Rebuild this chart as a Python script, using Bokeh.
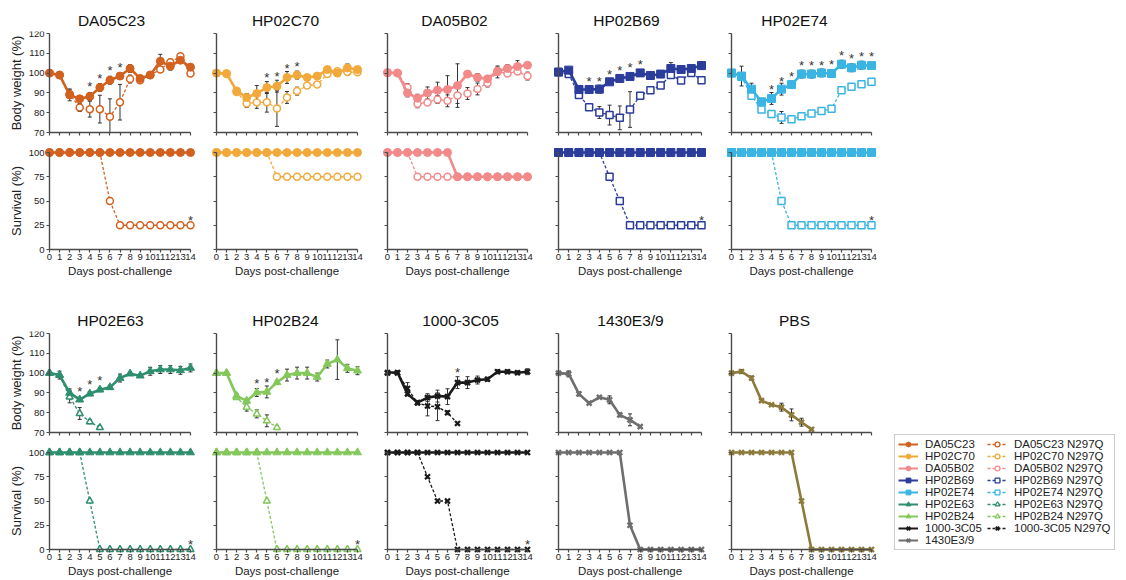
from bokeh.plotting import figure
from bokeh.layouts import row, column
from bokeh.models import (Range1d, FixedTicker, Whisker, TeeHead, ColumnDataSource,
                          Legend, LegendItem)
from bokeh.core.properties import value
from bokeh.embed import file_html
from bokeh.resources import INLINE

FONT = "Liberation Sans"

# ---------------- data ----------------
DAYS = list(range(15))
BW_TICKS = [70, 80, 90, 100, 110, 120]
SURV_TICKS = [0, 25, 50, 75, 100]

NAMES = ["DA05C23", "HP02C70", "DA05B02", "HP02B69", "HP02E74",
         "HP02E63", "HP02B24", "1000-3C05", "1430E3/9", "PBS"]
COLORS = ["#D2601F", "#F2A93B", "#F28A8A", "#2B3C9B", "#3AB5E3",
          "#2E8F6F", "#84C85B", "#1A1A1A", "#6E6E6E", "#8C7A3A"]
MARKERS = ["circle", "circle", "circle", "square", "square",
           "triangle", "triangle", "x", "x", "x"]

# body weight (%) - wild type Fc
DA05C23_bw = [100, 99, 89, 87, 88.2, 92.7, 96.4, 98.5, 102.3, 97.3, 99, 106, 103.5, 106.5, 103]
DA05C23_bw_err = [0, 1, 3, 1, 2, 2, 2, 1, 2, 1, 1, 3.5, 2, 1, 1.5]
HP02C70_bw = [100, 99.8, 91, 87.7, 89.7, 92.7, 93.4, 97.8, 99, 97.8, 98.5, 101.8, 100, 102.6, 101.8]
HP02C70_bw_err = [0, 1, 1, 2, 4, 3, 3, 3, 2, 1, 1, 1.5, 1.5, 2, 1]
DA05B02_bw = [100.3, 100, 90, 87.3, 90, 91.4, 91.7, 93.7, 99.5, 97.8, 97.1, 101, 102.3, 103.3, 104]
DA05B02_bw_err = [0, 0.5, 2, 2, 3, 4, 7, 11, 1, 2, 1, 2, 2, 3, 1]
HP02B69_bw = [100.5, 101.5, 91.7, 91.7, 91.9, 95.6, 97.3, 98.3, 100.1, 98.8, 99.5, 102.3, 101.8, 102.3, 103.8]
HP02B69_bw_err = [0, 1, 1, 1, 2, 1, 1, 1, 1, 2, 1, 3, 1, 1, 2]
HP02E74_bw = [100, 98.5, 91.9, 85.5, 87.2, 91.9, 94.2, 99.5, 99.5, 100.1, 99.8, 104.5, 102.7, 104, 103.8]
HP02E74_bw_err = [0, 5, 3, 1, 3, 3, 1, 2, 2, 2, 2, 2, 2, 2, 1]
HP02E63_bw = [100, 99, 90, 86.6, 89.6, 91.6, 92.8, 97.5, 99.7, 98.7, 100.9, 101.8, 101.8, 101.4, 102.6]
HP02E63_bw_err = [0, 2, 2, 1, 1, 1, 1, 2, 0.5, 0.5, 2, 2, 2, 2, 2]
HP02B24_bw = [100, 100, 88.5, 86, 90.2, 90.5, 95.3, 99, 100, 100, 98, 104.6, 106.8, 102.4, 101.2]
HP02B24_bw_err = [0, 0, 1, 1, 2, 3, 1, 3, 3, 3, 2, 2, 10, 2, 2]
C1000_3C05_bw = [100.3, 100.3, 89.5, 85.1, 87.6, 88.4, 88.1, 95.2, 95.2, 96.5, 96.9, 100.7, 100.7, 100.2, 100.7]
C1000_3C05_bw_err = [0, 1, 1, 1, 2, 3, 4, 3, 3, 2, 1, 1, 1, 1, 1.5]
E1430_bw = [100, 99.6, 89.5, 84.8, 87.8, 86.5, 78.9, 76.4, 73]
E1430_bw_err = [0.5, 1.5, 1, 0.5, 0.5, 2, 1, 3, 0.5]
PBS_bw = [100, 100.8, 97.5, 86.1, 84, 82.8, 78.9, 75.2, 71.6]
PBS_bw_err = [0.5, 1, 1, 0.5, 0.5, 2, 3, 2, 0.5]

# body weight (%) - N297Q variants
DA05C23_N297Q_bw = [100, 99, 89.5, 82.6, 81.8, 81.8, 78, 85.3, 97, 96.4, 99, 101.8, 105.5, 108.5, 99.8]
DA05C23_N297Q_bw_err = [0, 0, 2, 2, 4, 7, 9, 9, 2, 1, 0, 1, 1.5, 0, 1]
HP02C70_N297Q_bw = [100, 99.5, 90.5, 84.6, 85.2, 85.3, 82.1, 87.7, 90.9, 93.7, 94.2, 99.5, 100.9, 100.6, 100.4]
HP02C70_N297Q_bw_err = [0, 0, 1, 2, 3, 5, 9, 3, 2, 1, 1, 1, 1, 1, 1]
DA05B02_N297Q_bw = [100, 100, 92.7, 84.5, 85.2, 86.7, 86, 88.7, 89.7, 92, 95, 100.6, 99.8, 100.8, 98.5]
DA05B02_N297Q_bw_err = [0, 0, 2, 2, 1, 2, 3, 4, 3, 3, 2, 3, 1, 1, 2]
HP02B69_N297Q_bw = [100.5, 99.5, 89, 82.8, 80.1, 78.8, 77.4, 81.6, 88.5, 91.4, 93.7, 99, 96.3, 100.1, 96.4]
HP02B69_N297Q_bw_err = [0, 0, 1, 1, 3, 5, 6, 9, 1, 0, 0, 0, 0, 0, 0]
HP02E74_N297Q_bw = [100, 98.1, 88.5, 81.6, 79.3, 77.6, 76.7, 78.2, 79.6, 80.9, 82, 91.4, 93.1, 94.4, 95.6]
HP02E74_N297Q_bw_err = [0, 0, 1, 0, 1, 3, 1, 0, 0, 0, 0, 0, 0, 0, 0]
HP02E63_N297Q_bw = [100, 99, 88, 79.6, 75.4, 72.5]
HP02E63_N297Q_bw_err = [0, 0, 3, 3, 1, 0]
HP02B24_N297Q_bw = [100, 100, 87.7, 82.8, 79.4, 75.9, 72.5]
HP02B24_N297Q_bw_err = [0, 0, 1, 2, 2, 3, 1]
C1000_3C05_N297Q_bw = [100, 100, 92.2, 85, 83.4, 83, 80, 74.6]
C1000_3C05_N297Q_bw_err = [0, 0, 3, 1, 5, 7, 1, 0]

# survival (%)
DA05C23_surv = [100] * 15
HP02C70_surv = [100] * 15
DA05B02_surv = [100, 100, 100, 100, 100, 100, 100, 75, 75, 75, 75, 75, 75, 75, 75]
HP02B69_surv = [100] * 15
HP02E74_surv = [100] * 15
HP02E63_surv = [100] * 15
HP02B24_surv = [100] * 15
C1000_3C05_surv = [100] * 15
E1430_surv = [100, 100, 100, 100, 100, 100, 100, 25, 0, 0, 0, 0, 0, 0, 0]
PBS_surv = [100, 100, 100, 100, 100, 100, 100, 50, 0, 0, 0, 0, 0, 0, 0]

DA05C23_N297Q_surv = [100, 100, 100, 100, 100, 100, 50, 25, 25, 25, 25, 25, 25, 25, 25]
HP02C70_N297Q_surv = [100, 100, 100, 100, 100, 100, 75, 75, 75, 75, 75, 75, 75, 75, 75]
DA05B02_N297Q_surv = [100, 100, 100, 75, 75, 75, 75, 75, 75, 75, 75, 75, 75, 75, 75]
HP02B69_N297Q_surv = [100, 100, 100, 100, 100, 75, 50, 25, 25, 25, 25, 25, 25, 25, 25]
HP02E74_N297Q_surv = [100, 100, 100, 100, 100, 50, 25, 25, 25, 25, 25, 25, 25, 25, 25]
HP02E63_N297Q_surv = [100, 100, 100, 100, 50, 0, 0, 0, 0, 0, 0, 0, 0, 0, 0]
HP02B24_N297Q_surv = [100, 100, 100, 100, 100, 50, 0, 0, 0, 0, 0, 0, 0, 0, 0]
C1000_3C05_N297Q_surv = [100, 100, 100, 100, 75, 50, 50, 0, 0, 0, 0, 0, 0, 0, 0]

# significance asterisks (day, level)
DA05C23_star_days = [4, 5, 6, 7]
DA05C23_star_y = [95, 98.8, 102.6, 104.5]
HP02C70_star_days = [5, 6, 7, 8]
HP02C70_star_y = [99.5, 99.8, 103.6, 104.8]
HP02B69_star_days = [3, 4, 5, 6, 7, 8]
HP02B69_star_y = [97.3, 97.3, 101, 103, 104.5, 106]
HP02E74_star_days = [4, 5, 6, 7, 8, 9, 10, 11, 12, 13, 14]
HP02E74_star_y = [93, 97.3, 100, 105.4, 105.4, 105.4, 106, 110.4, 108.7, 110, 110]
HP02E63_star_days = [3, 4, 5]
HP02E63_star_y = [92.3, 95.8, 97.7]
HP02B24_star_days = [4, 5, 6]
HP02B24_star_y = [96.3, 96.8, 101.4]
C1000_3C05_star_days = [7]
C1000_3C05_star_y = [102]
SURV_STAR_DAY = 14
SURV_STAR_Y_TOP = 33
SURV_STAR_Y_BOTTOM = 8

# ---------------- assemble ----------------
BW = [DA05C23_bw, HP02C70_bw, DA05B02_bw, HP02B69_bw, HP02E74_bw,
      HP02E63_bw, HP02B24_bw, C1000_3C05_bw, E1430_bw, PBS_bw]
BW_ERR = [DA05C23_bw_err, HP02C70_bw_err, DA05B02_bw_err, HP02B69_bw_err, HP02E74_bw_err,
          HP02E63_bw_err, HP02B24_bw_err, C1000_3C05_bw_err, E1430_bw_err, PBS_bw_err]
MBW = [DA05C23_N297Q_bw, HP02C70_N297Q_bw, DA05B02_N297Q_bw, HP02B69_N297Q_bw, HP02E74_N297Q_bw,
       HP02E63_N297Q_bw, HP02B24_N297Q_bw, C1000_3C05_N297Q_bw, None, None]
MBW_ERR = [DA05C23_N297Q_bw_err, HP02C70_N297Q_bw_err, DA05B02_N297Q_bw_err, HP02B69_N297Q_bw_err,
           HP02E74_N297Q_bw_err, HP02E63_N297Q_bw_err, HP02B24_N297Q_bw_err,
           C1000_3C05_N297Q_bw_err, None, None]
SURV = [DA05C23_surv, HP02C70_surv, DA05B02_surv, HP02B69_surv, HP02E74_surv,
        HP02E63_surv, HP02B24_surv, C1000_3C05_surv, E1430_surv, PBS_surv]
MSURV = [DA05C23_N297Q_surv, HP02C70_N297Q_surv, DA05B02_N297Q_surv, HP02B69_N297Q_surv,
         HP02E74_N297Q_surv, HP02E63_N297Q_surv, HP02B24_N297Q_surv, C1000_3C05_N297Q_surv,
         None, None]
STARS = [(DA05C23_star_days, DA05C23_star_y), (HP02C70_star_days, HP02C70_star_y), None,
         (HP02B69_star_days, HP02B69_star_y), (HP02E74_star_days, HP02E74_star_y),
         (HP02E63_star_days, HP02E63_star_y), (HP02B24_star_days, HP02B24_star_y),
         (C1000_3C05_star_days, C1000_3C05_star_y), None, None]
SURV_STAR = [True, False, False, True, True, True, True, True, False, False]

# ---------------- layout (pixels) ----------------
BOUNDS = [0, 200, 372, 543, 716, 885]          # figure column edges
X0_PX = [49, 216, 387, 558, 731]               # pixel of day 0
X14_PX = [190, 357, 527, 701, 871]             # pixel of day 14
TITLE_CX = [111, 285, 454, 626, 794, 110, 285, 460, 630, 794]
TITLE_SIZE = 15.5
BW_TOP_BORDER = 31
BW_H = 140           # body weight figure height
BW_PX_120, BW_PX_70 = 33, 132
SV_H = [160, 139]    # survival figure height (top row, bottom row)
SV_PX_100, SV_PX_0 = 12, 109   # inside survival figure
LEGEND_W = 239
AX_COLOR = "#4a4a4a"
TXT = "#222222"

# approximate Arial / Liberation Sans advance widths (per 1000 em) for title centring
_ADV = {"D": 722, "A": 667, "C": 722, "H": 722, "P": 667, "B": 667, "E": 667, "S": 667,
        "-": 333, "/": 278}


def text_w(s, size):
    return sum(_ADV.get(ch, 556) for ch in s) * size / 1000.0


def y_range_for(top_px, bot_px, v_hi, px_hi, v_lo, px_lo):
    s = (px_lo - px_hi) / (v_hi - v_lo)
    return Range1d(v_lo - (bot_px - px_lo) / s, v_hi + (px_hi - top_px) / s)


def style_axis(ax, ticks, bounds, loc, show_labels):
    ax.ticker = FixedTicker(ticks=ticks)
    ax.bounds = bounds
    ax.fixed_location = loc
    ax.axis_line_color = AX_COLOR
    ax.axis_line_width = 1.4
    ax.major_tick_line_color = AX_COLOR
    ax.major_tick_line_width = 1.2
    ax.major_tick_in = 0
    ax.major_tick_out = 3
    ax.minor_tick_line_color = None
    ax.major_label_text_font = FONT
    ax.major_label_text_font_size = "9.5px"
    ax.major_label_standoff = 2
    ax.major_label_text_color = TXT if show_labels else None
    ax.axis_label_text_font = FONT
    ax.axis_label_text_font_style = "normal"
    ax.axis_label_text_color = TXT


def base_fig(width, height, xr, yr, top):
    p = figure(width=width, height=height, x_range=xr, y_range=yr,
               tools="", toolbar_location=None, output_backend="svg",
               min_border_left=0, min_border_right=0,
               min_border_top=top, min_border_bottom=0,
               outline_line_color=None, background_fill_color="white",
               border_fill_color="white")
    p.xgrid.visible = False
    p.ygrid.visible = False
    return p


def add_errors(p, xs, ys, es, lo_clip):
    xx, lo, hi = [], [], []
    for x, y, e in zip(xs, ys, es):
        if e > 0:
            xx.append(x)
            lo.append(max(y - e, lo_clip))
            hi.append(y + e)
    if not xx:
        return
    src = ColumnDataSource(dict(x=xx, lo=lo, hi=hi))
    w = Whisker(source=src, base="x", lower="lo", upper="hi",
                line_color="#333333", line_width=1,
                upper_head=TeeHead(size=4, line_color="#333333", line_width=1),
                lower_head=TeeHead(size=4, line_color="#333333", line_width=1))
    p.add_layout(w)


def draw_series(p, ys, color, marker, dashed):
    xs = DAYS[:len(ys)]
    isx = marker == "x"
    if dashed:
        p.line(xs, ys, line_color=color, line_width=1.3, line_dash="3 2")
        p.scatter(xs, ys, marker=marker, size=7,
                  fill_color=color if isx else "white", line_color=color,
                  line_width=2.2 if isx else 1.5)
    else:
        p.line(xs, ys, line_color=color, line_width=2.6)
        p.scatter(xs, ys, marker=marker, size=7 if isx else 8,
                  fill_color=color, line_color=color,
                  line_width=2.4 if isx else 1)


def make_panel(i):
    col = i % 5
    r = i // 5
    first = col == 0
    left, right = BOUNDS[col], BOUNDS[col + 1]
    width = right - left
    pxd = (X14_PX[col] - X0_PX[col]) / 14.0
    xr_lo = -(X0_PX[col] - left) / pxd
    xr_hi = 14 + (right - X14_PX[col]) / pxd
    color, marker = COLORS[i], MARKERS[i]

    # body weight panel
    bw = base_fig(width, BW_H, Range1d(xr_lo, xr_hi),
                  y_range_for(BW_TOP_BORDER, BW_H, 120, BW_PX_120, 70, BW_PX_70),
                  BW_TOP_BORDER)
    bw.title.text = NAMES[i]
    bw.title.text_font = FONT
    bw.title.text_font_size = f"{TITLE_SIZE}px"
    bw.title.text_font_style = "normal"
    bw.title.text_color = "#111111"
    bw.title.align = "left"
    bw.title.offset = TITLE_CX[i] - left - text_w(NAMES[i], TITLE_SIZE) / 2.0
    bw.title.standoff = 5
    style_axis(bw.xaxis[0], DAYS, (0, 14), 70, False)
    style_axis(bw.yaxis[0], BW_TICKS, (70, 120), 0, first)
    if first:
        bw.yaxis[0].axis_label = "Body weight (%)"
        bw.yaxis[0].axis_label_text_font_size = "13px"
        bw.yaxis[0].axis_label_standoff = 2
    if MBW[i] is not None:
        add_errors(bw, DAYS, MBW[i], MBW_ERR[i], 70)
    add_errors(bw, DAYS, BW[i], BW_ERR[i], 70)
    if MBW[i] is not None:
        draw_series(bw, MBW[i], color, marker, True)
    draw_series(bw, BW[i], color, marker, False)
    if STARS[i] is not None:
        bw.text(STARS[i][0], STARS[i][1], text=["*"] * len(STARS[i][0]),
                text_font=value(FONT), text_font_size="13px", text_color="#333333",
                text_align="center", text_baseline="middle", y_offset=3)

    # survival panel
    sh = SV_H[r]
    sv = base_fig(width, sh, Range1d(xr_lo, xr_hi),
                  y_range_for(0, sh, 100, SV_PX_100, 0, SV_PX_0), 0)
    style_axis(sv.xaxis[0], DAYS, (0, 14), 0, True)
    sv.xaxis[0].axis_label = "Days post-challenge"
    sv.xaxis[0].axis_label_text_font_size = "11.5px"
    sv.xaxis[0].axis_label_standoff = 2
    sv.xaxis[0].major_label_standoff = 1
    style_axis(sv.yaxis[0], SURV_TICKS, (0, 100), 0, first)
    if first:
        sv.yaxis[0].axis_label = "Survival (%)"
        sv.yaxis[0].axis_label_text_font_size = "13px"
        sv.yaxis[0].axis_label_standoff = 2
    if MSURV[i] is not None:
        draw_series(sv, MSURV[i], color, marker, True)
    draw_series(sv, SURV[i], color, marker, False)
    if SURV_STAR[i]:
        sy = SURV_STAR_Y_BOTTOM if r == 1 else SURV_STAR_Y_TOP
        sv.text([SURV_STAR_DAY], [sy], text=["*"],
                text_font=value(FONT), text_font_size="13px", text_color="#333333",
                text_align="center", text_baseline="middle", y_offset=3)
    return column(bw, sv, spacing=0)


panels = [make_panel(i) for i in range(10)]

# ---------------- legend ----------------
lg_h = BW_H + SV_H[1]
lg = figure(width=LEGEND_W, height=lg_h, x_range=Range1d(100, 101), y_range=Range1d(100, 101),
            tools="", toolbar_location=None, output_backend="svg",
            min_border=0, outline_line_color=None)
lg.xaxis.visible = False
lg.yaxis.visible = False
lg.xgrid.visible = False
lg.ygrid.visible = False

items = []
for i in range(9):
    c, m = COLORS[i], MARKERS[i]
    r1 = lg.line(DAYS[:len(BW[i])], BW[i], line_color=c, line_width=2)
    r2 = lg.scatter(DAYS[:len(BW[i])], BW[i], marker=m, size=6, fill_color=c, line_color=c,
                    line_width=1 if m != "x" else 2)
    items.append(LegendItem(label=NAMES[i], renderers=[r1, r2]))
for i in range(8):
    c, m = COLORS[i], MARKERS[i]
    r1 = lg.line(DAYS[:len(MBW[i])], MBW[i], line_color=c, line_width=1.3, line_dash="3 2")
    r2 = lg.scatter(DAYS[:len(MBW[i])], MBW[i], marker=m, size=6,
                    fill_color="white" if m != "x" else c,
                    line_color=c, line_width=1.2 if m != "x" else 2)
    items.append(LegendItem(label=NAMES[i] + " N297Q", renderers=[r1, r2]))

legend = Legend(items=items, location=(9, 29), orientation="vertical", nrows=9,
                label_text_font=FONT, label_text_font_size="11.5px", label_text_color=TXT,
                label_height=12, label_width=62, glyph_height=12, glyph_width=20,
                label_standoff=7, spacing=0, padding=3, margin=0,
                border_line_color="#9a9a9a", border_line_width=1,
                background_fill_color="white", background_fill_alpha=1)
lg.add_layout(legend, "center")

top = row(*panels[:5], spacing=0)
bottom = row(*panels[5:], lg, spacing=0)
root = column(top, bottom, spacing=0)

open("out.html", "w").write(file_html(root, INLINE))
